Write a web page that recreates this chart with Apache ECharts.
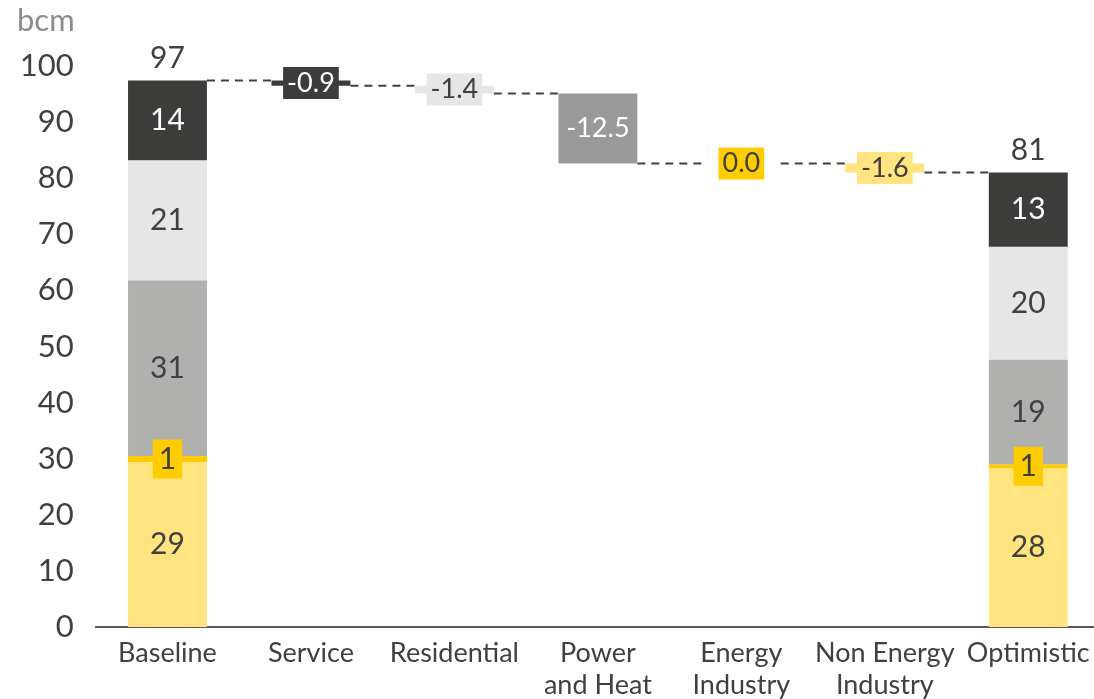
<!DOCTYPE html>
<html>
<head>
<meta charset="utf-8">
<script src="https://cdn.jsdelivr.net/npm/echarts@6/dist/echarts.min.js"></script>
<style>
html,body{margin:0;padding:0;background:#fff;}
#chart{width:1094px;height:699px;}
</style>
</head>
<body>
<div id="chart"></div>
<script>
// ---- data ----
const categories = ['Baseline', 'Service', 'Residential', 'Power\nand Heat', 'Energy\nIndustry', 'Non Energy\nIndustry', 'Optimistic'];
const segmentNames = ['Seg1', 'Seg2', 'Seg3', 'Seg4', 'Seg5'];
const baselineValues = [29.4, 1.1, 31.3, 21.4, 14.2];
const optimisticValues = [28.3, 0.7, 18.7, 20.1, 13.2];
const changeValues = [-0.9, -1.4, -12.5, 0.0, -1.6];
const unitLabel = 'bcm';

// ---- styles ----
const segColors = ['#FFE480', '#FFCC00', '#B0B0AE', '#E6E6E6', '#3C3C3B'];
const segTextColors = ['#404040', '#404040', '#404040', '#404040', '#FFFFFF'];
const changeStyles = [
  {color: '#3C3C3B', text: '#FFFFFF', bg: '#3C3C3B'},
  {color: '#E6E6E6', text: '#404040', bg: '#E6E6E6'},
  {color: '#999999', text: '#FFFFFF', bg: 'transparent'},
  {color: '#FFCC00', text: '#404040', bg: '#FFCC00'},
  {color: '#FFE480', text: '#404040', bg: '#FFE480'}
];
const FONT = 'Lato';

// derived
const baselineTotal = baselineValues.reduce((a, b) => a + b, 0);
const optimisticTotal = optimisticValues.reduce((a, b) => a + b, 0);
const levels = [baselineTotal];
changeValues.forEach(c => levels.push(+(levels[levels.length - 1] + c).toFixed(2)));
const n = categories.length;

const baseData = ['-'];
const deltaData = ['-'];
changeValues.forEach((c, i) => {
  baseData.push(Math.min(levels[i], levels[i + 1]));
  const st = changeStyles[i];
  deltaData.push({
    value: Math.abs(c),
    itemStyle: {color: st.color},
    label: {
      show: true, position: 'inside', color: st.text,
      backgroundColor: st.bg, padding: [3, 4, 2, 4],
      fontSize: 27, fontFamily: FONT,
      formatter: () => c.toFixed(1)
    }
  });
});
baseData.push('-');
deltaData.push('-');

const series = [
  {name: 'base', type: 'bar', stack: 'a', data: baseData, barWidth: '55%',
   itemStyle: {color: 'transparent'}, silent: true},
  {name: 'delta', type: 'bar', stack: 'a', data: deltaData, barWidth: '55%'}
];
segmentNames.forEach((nm, k) => {
  const d = new Array(n).fill('-');
  d[0] = baselineValues[k];
  d[n - 1] = optimisticValues[k];
  const lbl = {
    show: true, position: 'inside', color: segTextColors[k],
    fontSize: 30, fontFamily: FONT,
    formatter: p => Math.round(p.value)
  };
  if (k === 1) {
    lbl.backgroundColor = '#FFCC00';
    lbl.padding = [5, 6, 4, 6];
  }
  series.push({name: nm, type: 'bar', stack: 'a', data: d, barWidth: '55%',
    itemStyle: {color: segColors[k]}, label: lbl});
});
const totData = new Array(n).fill('-');
totData[0] = 0; totData[n - 1] = 0;
const totals = {0: baselineTotal, [n - 1]: optimisticTotal};
series.push({name: 'total', type: 'bar', stack: 'a', data: totData, barWidth: '55%',
  label: {show: true, position: 'top', distance: 7, fontSize: 30, fontFamily: FONT, color: '#404040',
    formatter: p => Math.round(totals[p.dataIndex])}});

// connectors
const connData = [];
for (let i = 0; i < n - 1; i++) connData.push([i, levels[i]]);
series.push({
  name: 'conn', type: 'custom', data: connData, z: 1, silent: true,
  renderItem: (params, api) => {
    const i = api.value(0), lv = api.value(1);
    const p = api.coord([i, lv]);
    const band = api.size([1, 0])[0];
    const bw = band * 0.55;
    return {
      type: 'line',
      shape: {x1: p[0] + bw / 2, y1: p[1], x2: p[0] + band - bw / 2, y2: p[1]},
      style: {stroke: '#404040', lineWidth: 2, lineDash: [8, 6]}
    };
  }
});

const chart = echarts.init(document.getElementById('chart'));
chart.setOption({
  animation: false,
  backgroundColor: '#fff',
  title: {text: unitLabel, left: 12, top: 0,
    textStyle: {fontSize: 31, fontWeight: 'normal', color: '#8C8C8C', fontFamily: FONT}},
  grid: {left: 95.75, right: -6, top: 66, bottom: 72, outerBoundsMode: 'none', containLabel: false},
  xAxis: {
    type: 'category', data: categories,
    axisLine: {lineStyle: {color: '#595959', width: 2}},
    axisTick: {show: false},
    axisLabel: {interval: 0, fontSize: 27, fontFamily: FONT, color: '#404040', margin: 10, lineHeight: 32}
  },
  yAxis: {
    type: 'value', min: 0, max: 100, interval: 10,
    axisLine: {show: false}, axisTick: {show: false}, splitLine: {show: false},
    axisLabel: {fontSize: 31, fontFamily: FONT, color: '#404040', margin: 22}
  },
  series: series
});
</script>
</body>
</html>
